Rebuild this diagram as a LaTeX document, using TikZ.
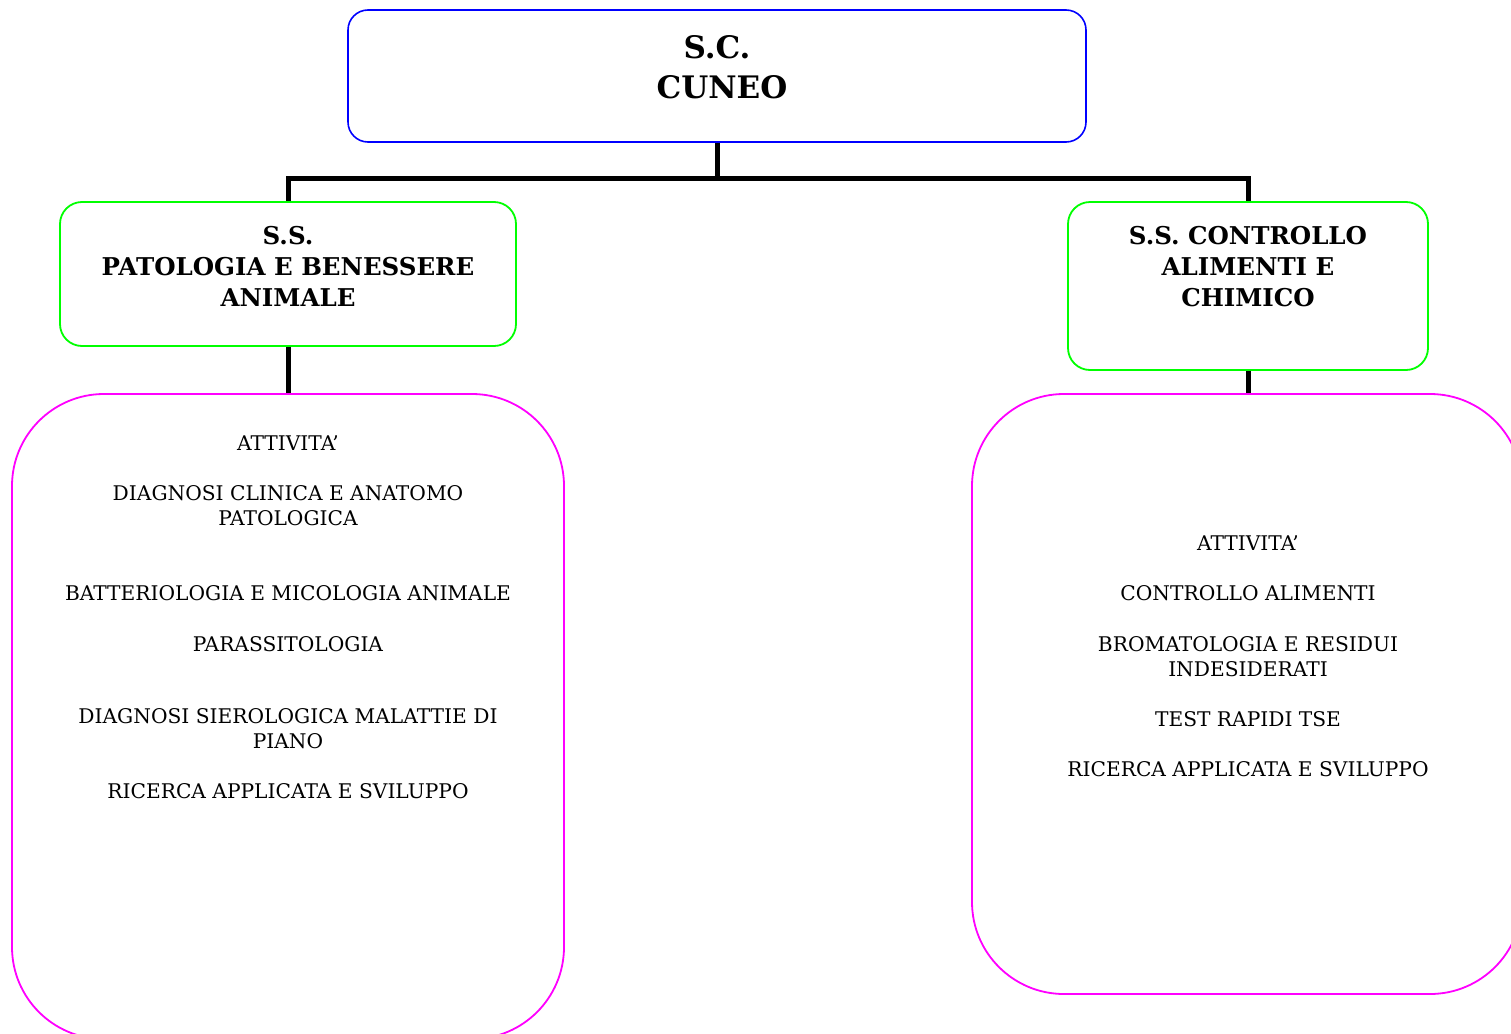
\documentclass[tikz,border=0pt]{standalone}
\usepackage{fontspec}
\setmainfont{DejaVu Serif}
\definecolor{boxblue}{RGB}{0,0,255}
\definecolor{boxgreen}{RGB}{0,255,0}
\definecolor{boxmag}{RGB}{255,0,255}
\begin{document}
\begin{tikzpicture}[x=1pt,y=-1pt,
  topbox/.style={draw=boxblue, line width=1.6pt, rounded corners=20pt, rectangle, inner sep=0pt},
  subbox/.style={draw=boxgreen, line width=1.8pt, rounded corners=22pt, rectangle, inner sep=0pt},
  actbox/.style={draw=boxmag, line width=1.8pt, rounded corners=92pt, rectangle, inner sep=0pt},
  conn/.style={line width=5pt, black, line join=miter},
  bigtitle/.style={align=center, inner sep=0pt, font=\fontsize{31}{40}\selectfont\bfseries},
  subtitle/.style={align=center, inner sep=0pt, font=\fontsize{24.5}{31}\selectfont\bfseries},
  item/.style={align=center, inner sep=0pt, font=\fontsize{20.2}{25}\selectfont}]
\useasboundingbox[fill=white] (0,0) rectangle (1511,1033);

% boxes
\node[topbox, minimum width=738pt, minimum height=132pt] (sc) at (717,76) {};
\node[subbox, minimum width=456pt, minimum height=144pt] (ssl) at (288,274) {};
\node[subbox, minimum width=360pt, minimum height=168pt] (ssr) at (1248,286) {};
\node[actbox, minimum width=552pt, minimum height=645pt] (actl) at (288,716.5) {};
\node[actbox, minimum width=550pt, minimum height=600pt] (actr) at (1247,694) {};

% connectors
\coordinate (bus) at (717,178);
\draw[conn] (sc.south) -- (bus);
\draw[conn] (ssl.north) |- (bus) -| (ssr.north);
\draw[conn] (ssl.south) -- (ssl.south |- actl.north);
\draw[conn] (ssr.south) -- (ssr.south |- actr.north);

% titles
\node[bigtitle] (sctext) at (717,67) {S.C.\\\hspace*{10pt}CUNEO};
\node[subtitle] (ssltext) at (288,266) {S.S.\\PATOLOGIA E BENESSERE\\ANIMALE};
\node[subtitle] (ssrtext) at (1248,267) {S.S. CONTROLLO\\ALIMENTI E\\CHIMICO};

% left activities
\node[item] (l1) at (288,443) {ATTIVITA’};
\node[item] (l2) at (288,505.5) {DIAGNOSI CLINICA E ANATOMO\\PATOLOGICA};
\node[item] (l3) at (288,593) {BATTERIOLOGIA E MICOLOGIA ANIMALE};
\node[item] (l4) at (288,644) {PARASSITOLOGIA};
\node[item] (l5) at (288,728.5) {DIAGNOSI SIEROLOGICA MALATTIE DI\\PIANO};
\node[item] (l6) at (288,791) {RICERCA APPLICATA E SVILUPPO};

% right activities
\node[item] (r1) at (1248,543) {ATTIVITA’};
\node[item] (r2) at (1248,593) {CONTROLLO ALIMENTI};
\node[item] (r3) at (1248,656.5) {BROMATOLOGIA E RESIDUI\\INDESIDERATI};
\node[item] (r4) at (1248,719) {TEST RAPIDI TSE};
\node[item] (r5) at (1248,769) {RICERCA APPLICATA E SVILUPPO};
\end{tikzpicture}
\end{document}
